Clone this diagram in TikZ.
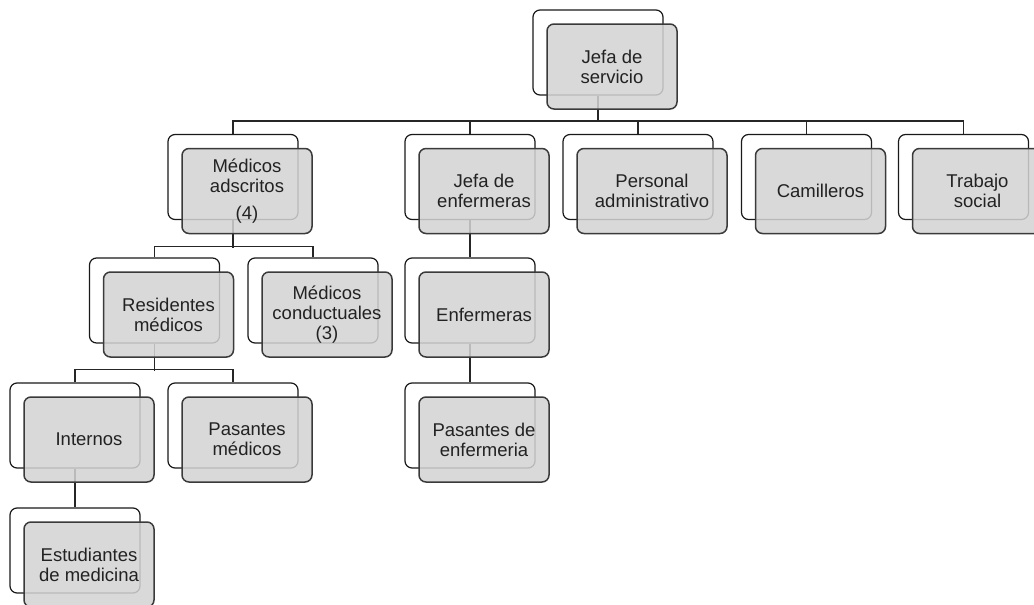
\documentclass[tikz,border=0pt]{standalone}
\usepackage{fontspec}
\setmainfont{Liberation Sans}
\usetikzlibrary{positioning}
\definecolor{BoxGray}{RGB}{211,211,211}
\definecolor{EdgeGray}{RGB}{58,58,58}
\definecolor{InkGray}{RGB}{34,34,34}

\begin{document}
\begin{tikzpicture}[x=1pt,y=-1pt,
    back/.style={draw=black!90,line width=1.2pt,rounded corners=7pt,fill=white,
      minimum width=130pt,minimum height=85pt},
    front/.style={draw=EdgeGray,line width=1.5pt,rounded corners=7pt,fill=BoxGray,
      fill opacity=0.86,text opacity=1,text=InkGray,minimum width=130pt,minimum height=85pt,
      align=center,inner sep=2pt,font=\fontsize{18.5}{20}\selectfont},
    link/.style={draw=black!85,line width=1.4pt}]
  \useasboundingbox (0,0) rectangle (1034,605);
  \clip (0,0) rectangle (1034,605);

  % back boxes
  \node[back] (jsB) at (598,52.5) {};
  \node[back] (maB) at (233,177) {};
  \node[back] (jeB) at (470,177) {};
  \node[back,minimum width=150pt] (paB) at (638,177) {};
  \node[back] (caB) at (806.5,177) {};
  \node[back] (tsB) at (963.5,177) {};
  \node[back] (rmB) at (154.5,300.5) {};
  \node[back] (mcB) at (313,300.5) {};
  \node[back] (enB) at (470,300.5) {};
  \node[back] (inB) at (75,425.5) {};
  \node[back] (pmB) at (233,425.5) {};
  \node[back] (peB) at (470,425.5) {};
  \node[back] (emB) at (75,550.5) {};

  % connectors
  \draw[link] (jsB.south) -- ++(0,26);
  \draw[link] (maB.north) -- ++(0,-13) -| (tsB.north);
  \foreach \n in {jeB,paB,caB}
    \draw[link] (\n.north) -- ++(0,-13);
  \draw[link] (maB.south) -- ++(0,28);
  \draw[link] (rmB.north) -- ++(0,-11) -| (mcB.north);
  \draw[link] (rmB.south) -- ++(0,27);
  \draw[link] (inB.north) -- ++(0,-13) -| (pmB.north);
  \draw[link] (inB.south) -- (emB.north);
  \draw[link] (jeB.south) -- (enB.north);
  \draw[link] (enB.south) -- (peB.north);

  % front boxes
  \node[front] (js) at ([xshift=14pt,yshift=-14pt]jsB) {Jefa de\\servicio};
  \node[front] (ma) at ([xshift=14pt,yshift=-14pt]maB) {Médicos\\adscritos\\[7pt](4)};
  \node[front] (je) at ([xshift=14pt,yshift=-14pt]jeB) {Jefa de\\enfermeras};
  \node[front,minimum width=150pt] (pa) at ([xshift=14pt,yshift=-14pt]paB) {Personal\\administrativo};
  \node[front] (ca) at ([xshift=14pt,yshift=-14pt]caB) {Camilleros};
  \node[front] (ts) at ([xshift=14pt,yshift=-14pt]tsB) {Trabajo\\social};
  \node[front] (rm) at ([xshift=14pt,yshift=-14pt]rmB) {Residentes\\médicos};
  \node[front] (mc) at ([xshift=14pt,yshift=-14pt]mcB) {Médicos\\conductuales\\(3)};
  \node[front] (en) at ([xshift=14pt,yshift=-14pt]enB) {Enfermeras};
  \node[front] (in) at ([xshift=14pt,yshift=-14pt]inB) {Internos};
  \node[front] (pm) at ([xshift=14pt,yshift=-14pt]pmB) {Pasantes\\médicos};
  \node[front] (pe) at ([xshift=14pt,yshift=-14pt]peB) {Pasantes de\\enfermeria};
  \node[front] (em) at ([xshift=14pt,yshift=-14pt]emB) {Estudiantes\\de medicina};
\end{tikzpicture}
\end{document}
